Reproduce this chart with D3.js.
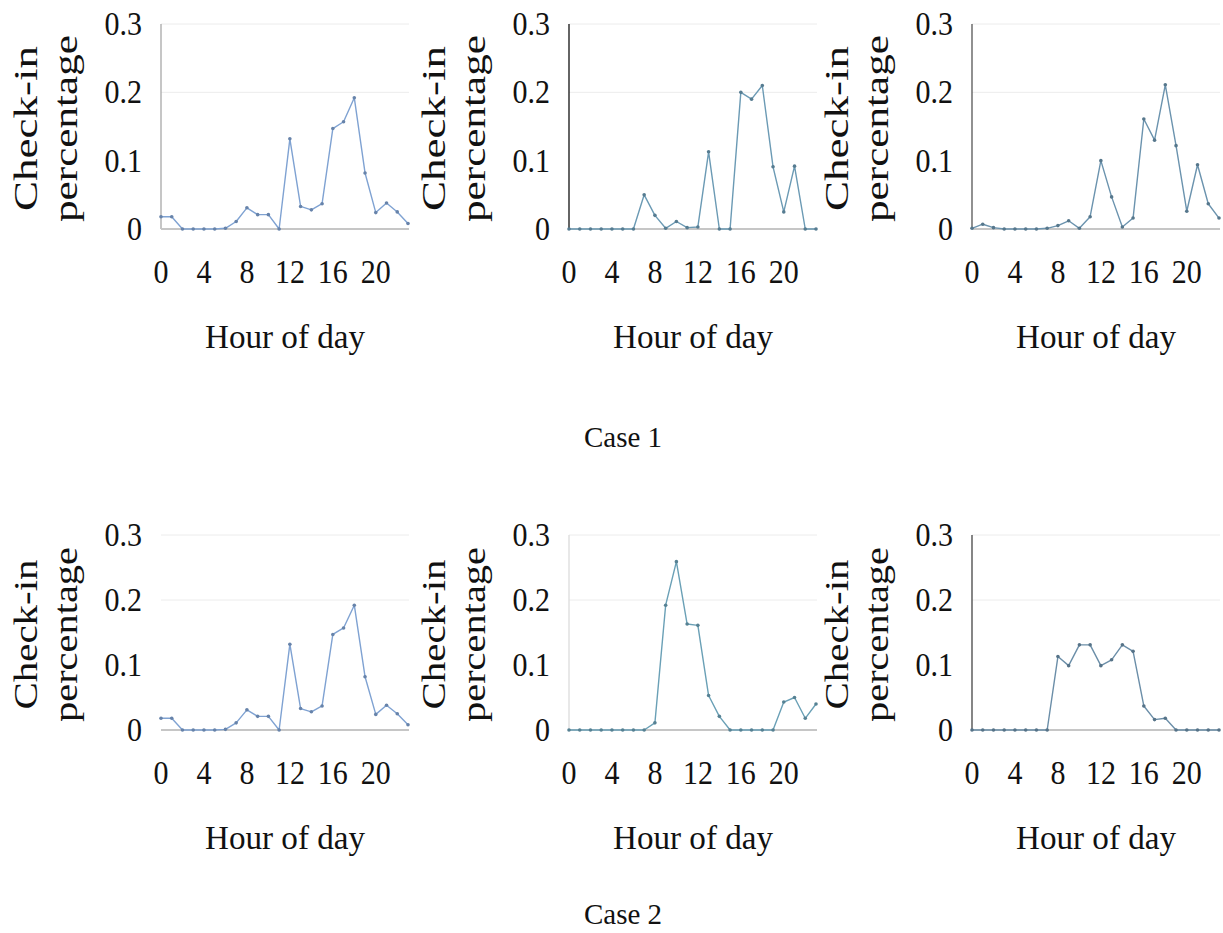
<!DOCTYPE html>
<html>
<head>
<meta charset="utf-8">
<script src="https://cdn.jsdelivr.net/npm/d3@7"></script>
<style>
  body { margin: 0; background: #fff; }
  svg text { font-family: "Liberation Serif", "Times New Roman", serif; fill: #111; }
</style>
</head>
<body>
<svg id="chart" width="1223" height="933"></svg>
<script>
// hour categories and tick labels
var hours = [0, 1, 2, 3, 4, 5, 6, 7, 8, 9, 10, 11, 12, 13, 14, 15, 16, 17, 18, 19, 20, 21, 22, 23];
var xTicks = [0, 4, 8, 12, 16, 20];
var yTicks = [0, 0.1, 0.2, 0.3];
var gridLevels = [0.2, 0.3];
var captions = ['Case 1', 'Case 2'];

// check-in percentage per hour
var case1a = [0.018, 0.018, 0, 0, 0, 0, 0.001, 0.011, 0.031, 0.021, 0.021, 0, 0.132, 0.033, 0.028, 0.037, 0.147, 0.157, 0.192, 0.082, 0.024, 0.038, 0.025, 0.008];
var case1b = [0, 0, 0, 0, 0, 0, 0, 0.05, 0.02, 0.001, 0.011, 0.002, 0.003, 0.113, 0, 0, 0.2, 0.19, 0.21, 0.091, 0.025, 0.092, 0, 0];
var case1c = [0.001, 0.007, 0.002, 0, 0, 0, 0, 0.001, 0.005, 0.012, 0.001, 0.018, 0.1, 0.047, 0.003, 0.016, 0.161, 0.13, 0.211, 0.122, 0.026, 0.094, 0.037, 0.016];
var case2a = [0.018, 0.018, 0, 0, 0, 0, 0.001, 0.011, 0.031, 0.021, 0.021, 0, 0.132, 0.033, 0.028, 0.037, 0.147, 0.157, 0.192, 0.082, 0.024, 0.038, 0.025, 0.008];
var case2b = [0, 0, 0, 0, 0, 0, 0, 0, 0.011, 0.192, 0.259, 0.163, 0.161, 0.053, 0.021, 0, 0, 0, 0, 0, 0.043, 0.05, 0.018, 0.04];
var case2c = [0, 0, 0, 0, 0, 0, 0, 0, 0.113, 0.099, 0.131, 0.131, 0.099, 0.108, 0.131, 0.121, 0.037, 0.016, 0.018, 0, 0, 0, 0, 0];

var rows = [[case1a, case1b, case1c], [case2a, case2b, case2c]];

// layout
var colX = [161, 569, 972];
var plotW = 247;
var rowGeom = [
    {zero: 229, top: 24, checkLen: 165, pctLen: 187, caption: 447},
    {zero: 730, top: 535, checkLen: 150, pctLen: 175, caption: 924}
];
var lineColors = [['#7fa2d2', '#6b9ab4', '#6b93ae'], ['#7fa2d2', '#6aa0b6', '#6b8ea8']];
var axisColors = [['#a8a8a8', '#111', '#555'], [null, '#dcdcdc', '#444']];

var svg = d3.select('#chart');

rows.forEach(function (row, r) {
    var geo = rowGeom[r];
    var y = d3.scaleLinear().domain([0, 0.3]).range([geo.zero, geo.top]);

    row.forEach(function (values, c) {
        var x0 = colX[c];
        var x = d3.scaleLinear().domain([0, 23]).range([x0, x0 + plotW]);
        var g = svg.append('g');

        // gridlines
        g.selectAll('.grid')
            .data(gridLevels)
            .enter().append('line')
            .attr('x1', x0).attr('x2', x0 + plotW + 1)
            .attr('y1', function (d) { return y(d); })
            .attr('y2', function (d) { return y(d); })
            .attr('stroke', '#ececec')
            .attr('stroke-width', 1);

        // vertical axis line
        if (axisColors[r][c]) {
            g.append('line')
                .attr('x1', x0).attr('x2', x0)
                .attr('y1', y(0.3)).attr('y2', y(0))
                .attr('stroke', axisColors[r][c])
                .attr('stroke-width', 1.3);
        }

        // baseline
        g.append('line')
            .attr('x1', x0).attr('x2', x0 + plotW + 1)
            .attr('y1', y(0)).attr('y2', y(0))
            .attr('stroke', '#c6c6c6')
            .attr('stroke-width', 2);

        var line = d3.line()
            .x(function (d, i) { return x(hours[i]); })
            .y(function (d) { return y(d); });

        g.append('path')
            .datum(values)
            .attr('fill', 'none')
            .attr('stroke', lineColors[r][c])
            .attr('stroke-width', 1.4)
            .attr('stroke-linejoin', 'round')
            .attr('d', line);

        g.selectAll('.pt')
            .data(values)
            .enter().append('circle')
            .attr('cx', function (d, i) { return x(hours[i]); })
            .attr('cy', function (d) { return y(d); })
            .attr('r', 1.8)
            .attr('fill', d3.color(lineColors[r][c]).darker(0.6));

        // y tick labels
        g.selectAll('.ytl')
            .data(yTicks)
            .enter().append('text')
            .attr('transform', function (d) {
                return 'translate(' + (x0 - 19) + ',' + (y(d) + 11) + ') scale(1,1.1)';
            })
            .attr('text-anchor', 'end')
            .attr('font-size', 30)
            .text(function (d) { return d === 0 ? '0' : d3.format('.1f')(d); });

        // x tick labels
        g.selectAll('.xtl')
            .data(xTicks)
            .enter().append('text')
            .attr('transform', function (d) {
                return 'translate(' + x(d) + ',' + (geo.zero + 54) + ') scale(1,1.1)';
            })
            .attr('text-anchor', 'middle')
            .attr('font-size', 30)
            .text(function (d) { return d; });

        // x title
        g.append('text')
            .attr('transform', 'translate(' + (x0 + 124) + ',' + (geo.zero + 119) + ') scale(1,1.1)')
            .attr('font-size', 30)
            .attr('textLength', 160)
            .attr('lengthAdjust', 'spacingAndGlyphs')
            .attr('x', -80)
            .text('Hour of day');

        // y title, two lines rotated
        var cy = (geo.zero + geo.top) / 2 + 2;
        g.append('text')
            .attr('transform', 'translate(' + (x0 - 124) + ',' + cy + ') rotate(-90)')
            .attr('x', -geo.checkLen / 2)
            .attr('font-size', 33)
            .attr('textLength', geo.checkLen)
            .attr('lengthAdjust', 'spacingAndGlyphs')
            .text('Check-in');
        g.append('text')
            .attr('transform', 'translate(' + (x0 - 84) + ',' + cy + ') rotate(-90)')
            .attr('x', -geo.pctLen / 2)
            .attr('font-size', 33)
            .attr('textLength', geo.pctLen)
            .attr('lengthAdjust', 'spacingAndGlyphs')
            .text('percentage');
    });

    svg.append('text')
        .attr('transform', 'translate(623,' + geo.caption + ') scale(1,1.05)')
        .attr('text-anchor', 'middle')
        .attr('font-size', 29)
        .text(captions[r]);
});
</script>
</body>
</html>
